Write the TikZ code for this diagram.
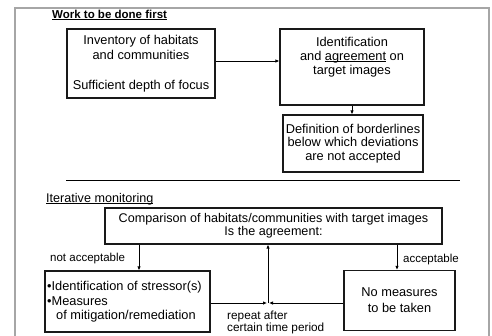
\documentclass[tikz,border=0pt]{standalone}
\usepackage{fontspec}
\setmainfont{Liberation Sans}
\newcommand\myul[1]{\setbox0\hbox{#1}\rlap{\rule[-1.8pt]{\wd0}{0.7pt}}\box0\relax}
\usetikzlibrary{arrows.meta}
\begin{document}
\begin{tikzpicture}[x=1pt,y=-1pt,
  box/.style={draw=black!90, line width=1.2pt, inner sep=0pt},
  txt/.style={font=\fontsize{12.8}{15}\selectfont, align=center, inner sep=0pt},
  lbl/.style={font=\fontsize{11.5}{12}\selectfont, inner sep=0pt},
  arr/.style={line width=0.9pt, -{Latex[length=4pt,width=3.5pt]}},
  frame/.style={draw=black!35, line width=1.2pt}]
\useasboundingbox (0,0) rectangle (492,335);
% outer frame
\coordinate (f1) at (15,336);
\coordinate (f2) at (15,8);
\coordinate (f3) at (489,8);
\coordinate (f4) at (489,336);
\draw[frame] (f1) -- (f2) -- (f3) -- (f4);
% headings
\node[anchor=base west, inner sep=0pt, font=\bfseries\fontsize{11.5}{13}\selectfont] (h1) at (52,18) {\myul{Work to be done first}};
\node[anchor=base west, inner sep=0pt, font=\fontsize{12.6}{14}\selectfont] (h2) at (46,202) {\myul{Iterative monitoring}};
% upper part
\node[box, txt, minimum width=148pt, minimum height=69pt] (inv) at (141,63.5)
  {Inventory of habitats\\and communities\\[15pt]Sufficient depth of focus};
\node[box, minimum width=144pt, minimum height=76pt] (ident) at (352,67) {};
\node[txt, font=\fontsize{12.8}{14}\selectfont] (identtxt) at (352,57)
  {Identification\\and \myul{agreement} on\\target images};
\node[box, txt, font=\fontsize{12.8}{13.5}\selectfont, minimum width=140pt, minimum height=57pt] (def) at (353,143.5)
  {Definition of borderlines\\below which deviations\\are not accepted};
\draw[arr] ([yshift=2.5pt]inv.east) -- ([yshift=6pt]ident.west);
\draw[arr] (ident.south) -- (ident.south |- def.north);
% separator
\coordinate (sepA) at (66,180);
\coordinate (sepB) at (460,180);
\draw[line width=1pt] (sepA) -- (sepB);
% lower part
\node[box, txt, font=\fontsize{12.6}{13}\selectfont, minimum width=337pt, minimum height=36pt] (comp) at (273.5,226)
  {Comparison of habitats/communities with target images\\Is the agreement:};
\node[box, minimum width=165pt, minimum height=61pt] (stress) at (127.5,301.5) {};
\node[txt, align=left, anchor=west, font=\fontsize{12.8}{14.5}\selectfont] (stresstxt) at (47,302)
  {•Identification of stressor(s)\\•Measures\\\hspace*{9pt}of mitigation/remediation};
\node[box, txt, font=\fontsize{12.8}{16}\selectfont, minimum width=111pt, minimum height=60pt] (nomeas) at (399.5,300.5)
  {No measures\\to be taken};
\node[lbl, anchor=base west] (na) at (50,261.5) {not acceptable};
\node[lbl, anchor=base east] (ac) at (459,262) {acceptable};
\node[lbl, align=left, anchor=north west, font=\fontsize{11.8}{12}\selectfont] (rep) at (227,311)
  {repeat after\\certain time period};
\coordinate (xL) at (139,0);
\coordinate (xR) at (397,0);
\coordinate (jn) at (268,303);
\draw[arr] (comp.south -| xL) -- (stress.north -| xL);
\draw[arr] (comp.south -| xR) -- (nomeas.north -| xR);
\draw[arr] (stress.east |- jn) -- ([xshift=-1pt]jn);
\draw[arr] (nomeas.west |- jn) -- ([xshift=1pt]jn);
\draw[arr] (jn) -- (comp.south -| jn);
\end{tikzpicture}
\end{document}
